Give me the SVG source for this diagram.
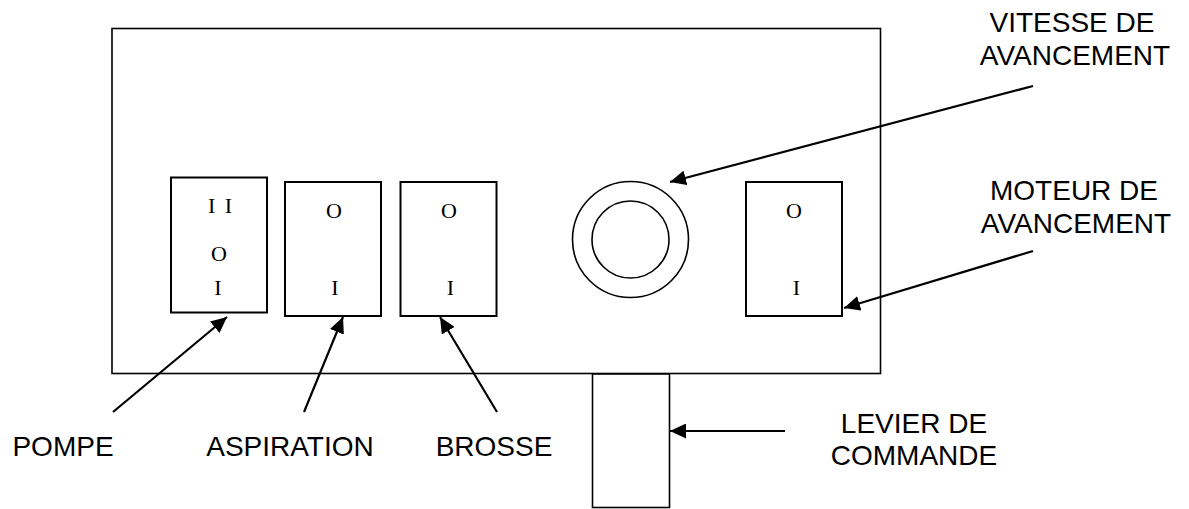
<svg xmlns="http://www.w3.org/2000/svg" width="1189" height="509" viewBox="0 0 1189 509">
<defs>
<marker id="ah" markerUnits="userSpaceOnUse" markerWidth="17" markerHeight="15" refX="16" refY="7.5" orient="auto">
<path d="M0,0 L16,7.5 L0,15 z" fill="#000"/>
</marker>
<style>
.panel{fill:#fff;stroke:#000;stroke-width:1.6}
.sw{fill:#fff;stroke:#000;stroke-width:2}
.ring{fill:none;stroke:#000;stroke-width:1.6}
.lev{fill:#fff;stroke:#000;stroke-width:1.6}
.sym{font-family:"Liberation Serif","Times New Roman",serif;font-size:22px;fill:#000;text-anchor:middle}
.lbl{font-family:"Liberation Sans",Arial,sans-serif;font-size:28px;fill:#000;text-anchor:middle}
.con{stroke:#000;stroke-width:2.2;fill:none;marker-end:url(#ah)}
</style>
</defs>
<rect width="1189" height="509" fill="#fff"/>
<g id="panel">
<rect class="panel" x="112" y="28.5" width="768.5" height="345"/>
</g>
<g id="levier">
<rect class="lev" x="592.5" y="374" width="77" height="133.5"/>
</g>
<g id="pompe">
<rect class="sw" x="171" y="177.5" width="96" height="135"/>
<text class="sym" x="220" y="213" word-spacing="4">I I</text>
<text class="sym" x="219" y="261">O</text>
<text class="sym" x="218" y="295">I</text>
</g>
<g id="aspiration">
<rect class="sw" x="285" y="182" width="96" height="134"/>
<text class="sym" x="334" y="217.5">O</text>
<text class="sym" x="335" y="295">I</text>
</g>
<g id="brosse">
<rect class="sw" x="400.5" y="182" width="96" height="134"/>
<text class="sym" x="449" y="217.5">O</text>
<text class="sym" x="450.5" y="295">I</text>
</g>
<g id="vitesse">
<circle class="ring" cx="630.5" cy="239.5" r="58"/>
<circle class="ring" cx="630.5" cy="239.5" r="38.5"/>
</g>
<g id="moteur">
<rect class="sw" x="746" y="182" width="96" height="134"/>
<text class="sym" x="794" y="217.5">O</text>
<text class="sym" x="796.5" y="295">I</text>
</g>
<g id="connectors">
<line class="con" x1="113" y1="412" x2="227" y2="317"/>
<line class="con" x1="304" y1="412" x2="343" y2="317"/>
<line class="con" x1="497" y1="412" x2="440" y2="317"/>
<line class="con" x1="1033" y1="86" x2="670" y2="182"/>
<line class="con" x1="1033" y1="251" x2="844" y2="308"/>
<line class="con" x1="785" y1="431" x2="670" y2="431"/>
</g>
<g id="labels">
<text class="lbl" x="1072" y="32">VITESSE DE</text>
<text class="lbl" x="1075" y="65">AVANCEMENT</text>
<text class="lbl" x="1074" y="200">MOTEUR DE</text>
<text class="lbl" x="1076" y="233">AVANCEMENT</text>
<text class="lbl" x="63" y="456">POMPE</text>
<text class="lbl" x="290" y="456">ASPIRATION</text>
<text class="lbl" x="494" y="456">BROSSE</text>
<text class="lbl" x="914" y="433">LEVIER DE</text>
<text class="lbl" x="914" y="465">COMMANDE</text>
</g>
</svg>
